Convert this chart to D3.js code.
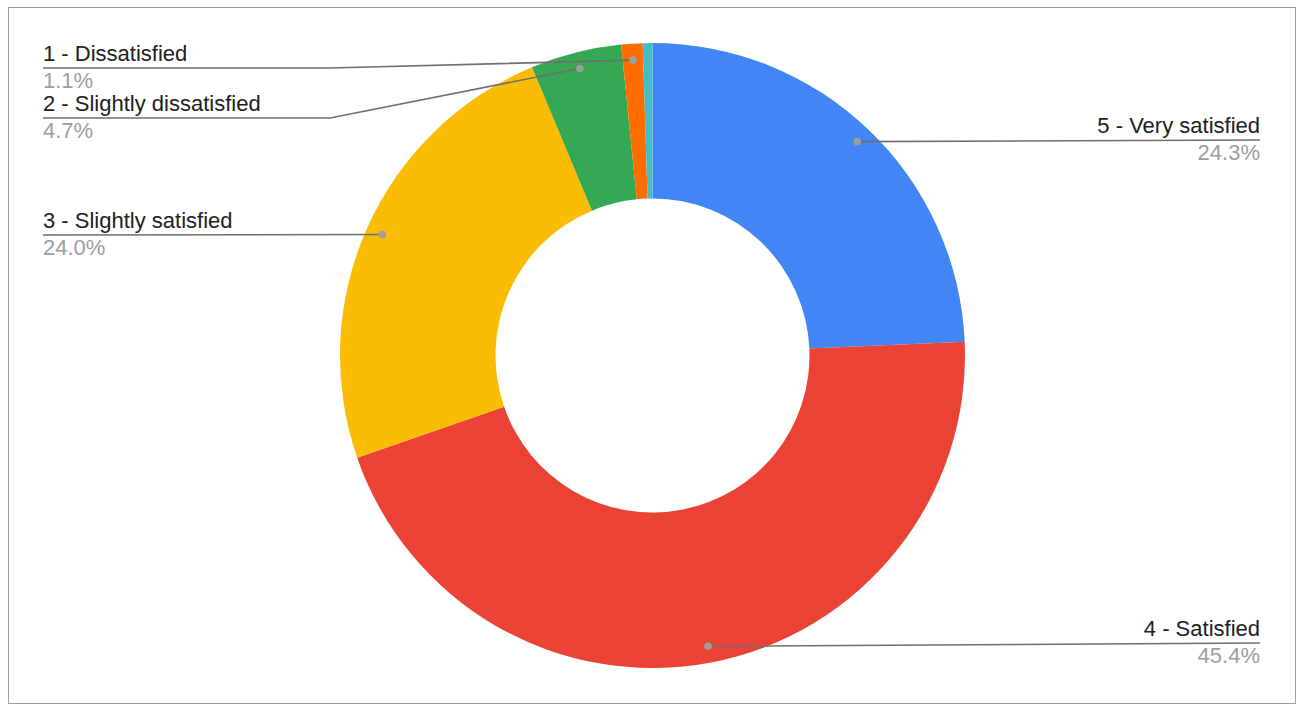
<!DOCTYPE html>
<html><head><meta charset="utf-8">
<script src="https://cdn.jsdelivr.net/npm/d3@7"></script>
<style>
html,body{margin:0;padding:0;background:#fff;}
svg{display:block;font-family:"Liberation Sans",Arial,sans-serif;}
</style></head>
<body>
<svg id="chart" width="1305" height="711"></svg>
<script>
const categories = ["5 - Very satisfied","4 - Satisfied","3 - Slightly satisfied","2 - Slightly dissatisfied","1 - Dissatisfied","0"];
const values = [24.3, 45.4, 24.0, 4.7, 1.1, 0.5];
const percentLabels = ["24.3%","45.4%","24.0%","4.7%","1.1%",""];
const colors = ["#4285F4","#EA4335","#FBBC04","#34A853","#FF6D01","#46BDC6"];
const labelSide = ["right","right","left","left","left",null];
const labelY = [140, 643, 235, 118, 68, null];

const svg = d3.select("#chart");
svg.append("rect").attr("x",8.5).attr("y",7.5).attr("width",1287).attr("height",696)
  .attr("fill","#fff").attr("stroke","#9e9e9e").attr("stroke-width",1);

const cx = 652.5, cy = 355.5, rOuter = 312.5, rInner = 157, rDot = 296;
const g = svg.append("g").attr("transform",`translate(${cx},${cy})`);
const pie = d3.pie().sort(null).value(d=>d);
const arcs = pie(values);
const arc = d3.arc().innerRadius(rInner).outerRadius(rOuter);
g.selectAll("path.slice").data(arcs).enter().append("path")
  .attr("class","slice").attr("d",arc).attr("fill",(d,i)=>colors[i]);

const dotArc = d3.arc().innerRadius(rDot).outerRadius(rDot);
const lineG = svg.append("g");
const textG = svg.append("g");
arcs.forEach((a,i)=>{
  if(!labelSide[i]) return;
  const [px,py] = dotArc.centroid(a);
  const dx = cx+px, dy = cy+py;
  const ly = labelY[i];
  let pts;
  if(labelSide[i]==="right"){
    pts = [[dx,dy],[1260,ly]];
  } else {
    if(Math.abs(dy-ly)<2) pts=[[dx,dy],[43,ly]];
    else pts=[[dx,dy],[330,ly],[43,ly]];
  }
  lineG.append("path").attr("d",d3.line()(pts)).attr("fill","none")
    .attr("stroke","#6f6f6f").attr("stroke-width",1.6);
  lineG.append("circle").attr("cx",dx).attr("cy",dy).attr("r",3.8).attr("fill","#9e9e9e");
  const tx = labelSide[i]==="right"?1260:43;
  const anchor = labelSide[i]==="right"?"end":"start";
  textG.append("text").attr("x",tx).attr("y",ly-7).attr("text-anchor",anchor)
    .attr("font-size",22).attr("fill","#212121").text(categories[i]);
  textG.append("text").attr("x",tx).attr("y",ly+20).attr("text-anchor",anchor)
    .attr("font-size",22).attr("fill","#9e9e9e").text(percentLabels[i]);
});
</script>
</body></html>
